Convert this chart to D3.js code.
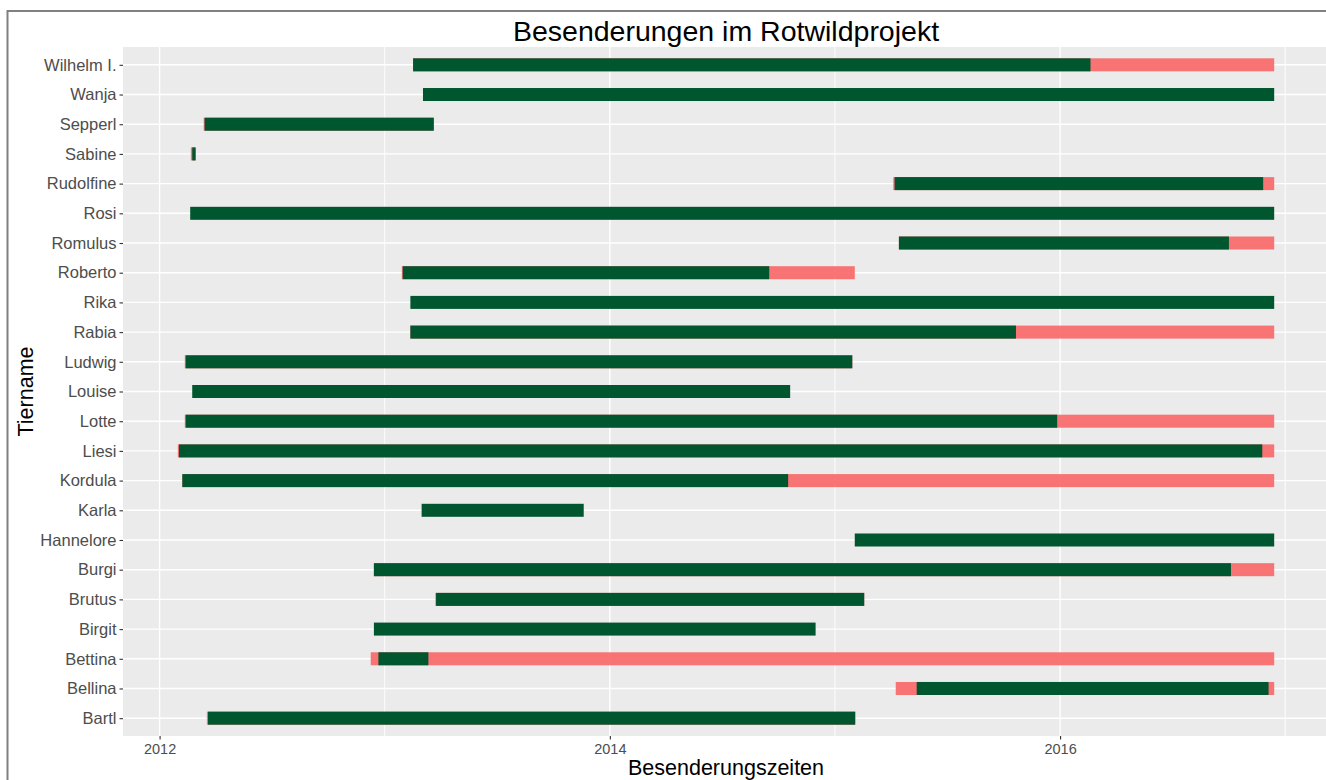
<!DOCTYPE html>
<html>
<head>
<meta charset="utf-8">
<script src="https://cdn.jsdelivr.net/npm/d3@7"></script>
<style>
  html, body { margin: 0; padding: 0; background: #ffffff; }
  svg { display: block; font-family: "Liberation Sans", Arial, sans-serif; }
</style>
</head>
<body>
<svg id="chart" width="1326" height="780"></svg>
<script>
// ---- data (decimal years) ----
const animals = ["Wilhelm I.", "Wanja", "Sepperl", "Sabine", "Rudolfine", "Rosi", "Romulus", "Roberto",
  "Rika", "Rabia", "Ludwig", "Louise", "Lotte", "Liesi", "Kordula", "Karla", "Hannelore", "Burgi",
  "Brutus", "Birgit", "Bettina", "Bellina", "Bartl"];
// full deployment period (red), null where completely covered
const redStart = [2013.126, null, 2012.196, 2012.139, 2015.259, null, 2015.284, 2013.076,
  null, 2013.114, 2012.112, null, 2012.112, 2012.081, 2012.101, null, null, 2012.952,
  2013.225, null, 2012.938, 2015.270, 2012.210];
const redEnd = [2016.951, null, 2013.218, 2012.160, 2016.951, null, 2016.951, 2015.088,
  null, 2016.951, 2015.077, null, 2016.951, 2016.951, 2016.951, null, null, 2016.951,
  2015.130, null, 2016.951, 2016.951, 2015.090];
// period with data (green)
const greenStart = [2013.126, 2013.170, 2012.200, 2012.145, 2015.265, 2012.136, 2015.284, 2013.080,
  2013.114, 2013.114, 2012.116, 2012.145, 2012.116, 2012.086, 2012.101, 2013.164, 2015.088, 2012.952,
  2013.228, 2012.952, 2012.972, 2015.363, 2012.215];
const greenEnd = [2016.135, 2016.951, 2013.218, 2012.160, 2016.902, 2016.951, 2016.750, 2014.708,
  2016.951, 2015.804, 2015.077, 2014.801, 2015.987, 2016.898, 2014.792, 2013.884, 2016.951, 2016.759,
  2015.130, 2014.914, 2013.194, 2016.926, 2015.090];
const majorTicks = [2012, 2014, 2016];
const minorTicks = [2013, 2015, 2017];
const tickLabels = ["2012", "2014", "2016"];
const titleText = "Besenderungen im Rotwildprojekt";
const xTitle = "Besenderungszeiten";
const yTitle = "Tiername";

// ---- layout ----
const svg = d3.select("#chart");
const panel = { left: 123, right: 1329, top: 47, bottom: 736 };
const green = "#00562F";
const red = "#F8696B";

const all = [].concat(redStart, redEnd, greenStart, greenEnd).filter(v => v != null);
const ext = d3.extent(all);
const pad = (ext[1] - ext[0]) * 0.05;
const x = d3.scaleLinear().domain([ext[0] - pad, ext[1] + pad]).range([panel.left, panel.right]);
const y = d3.scalePoint().domain(animals).range([panel.top, panel.bottom]).padding(0.6);

// outer frame
svg.append("rect").attr("x", 7.5).attr("y", 11).attr("width", 1340).attr("height", 800)
  .attr("fill", "none").attr("stroke", "#808080").attr("stroke-width", 2);

// panel background
svg.append("rect").attr("x", panel.left).attr("y", panel.top)
  .attr("width", panel.right - panel.left).attr("height", panel.bottom - panel.top)
  .attr("fill", "#EBEBEB");

const grid = svg.append("g");
grid.selectAll(".minor").data(minorTicks).join("line")
  .attr("x1", d => x(d)).attr("x2", d => x(d))
  .attr("y1", panel.top).attr("y2", panel.bottom)
  .attr("stroke", "#ffffff").attr("stroke-width", 0.9);
grid.selectAll(".major").data(majorTicks).join("line")
  .attr("x1", d => x(d)).attr("x2", d => x(d))
  .attr("y1", panel.top).attr("y2", panel.bottom)
  .attr("stroke", "#ffffff").attr("stroke-width", 1.4);
grid.selectAll(".hmajor").data(animals).join("line")
  .attr("x1", panel.left).attr("x2", panel.right)
  .attr("y1", d => y(d)).attr("y2", d => y(d))
  .attr("stroke", "#ffffff").attr("stroke-width", 1.4);

const rows = animals.map((a, i) => ({ a, rs: redStart[i], re: redEnd[i], gs: greenStart[i], ge: greenEnd[i] }));
const barH = 13;
svg.append("g").selectAll("rect").data(rows.filter(r => r.rs != null)).join("rect")
  .attr("x", d => x(d.rs)).attr("width", d => Math.max(0.8, x(d.re) - x(d.rs)))
  .attr("y", d => y(d.a) - barH / 2).attr("height", barH)
  .attr("fill", red).attr("fill-opacity", 0.93);
svg.append("g").selectAll("rect").data(rows).join("rect")
  .attr("x", d => x(d.gs)).attr("width", d => Math.max(0.8, x(d.ge) - x(d.gs)))
  .attr("y", d => y(d.a) - barH / 2).attr("height", barH)
  .attr("fill", green);

// y axis
const yAxis = svg.append("g").attr("transform", `translate(${panel.left},0)`)
  .call(d3.axisLeft(y).tickSize(3.5).tickPadding(3));
yAxis.select(".domain").remove();
yAxis.selectAll("line").attr("stroke", "#333333").attr("stroke-width", 1.1);
yAxis.selectAll("text").attr("fill", "#4D4D4D").attr("font-size", "16.5px")
  .attr("font-family", "'Liberation Sans', Arial, sans-serif");

// x axis
const xAxis = svg.append("g").attr("transform", `translate(0,${panel.bottom})`)
  .call(d3.axisBottom(x).tickValues(majorTicks).tickFormat((d, i) => tickLabels[i]).tickSize(3.5).tickPadding(4));
xAxis.select(".domain").remove();
xAxis.selectAll("line").attr("stroke", "#333333").attr("stroke-width", 1.1);
xAxis.selectAll("text").attr("fill", "#4D4D4D").attr("font-size", "14.5px")
  .attr("font-family", "'Liberation Sans', Arial, sans-serif");

// titles
const cx = (panel.left + panel.right) / 2;
svg.append("text").attr("x", cx).attr("y", 41).attr("text-anchor", "middle")
  .attr("font-size", "28.5px").attr("fill", "#000").text(titleText);
svg.append("text").attr("x", cx).attr("y", 775).attr("text-anchor", "middle")
  .attr("font-size", "21.5px").attr("fill", "#000").text(xTitle);
svg.append("text").attr("transform", `translate(33,${(panel.top + panel.bottom) / 2}) rotate(-90)`)
  .attr("text-anchor", "middle").attr("font-size", "21.5px").attr("fill", "#000").text(yTitle);
</script>
</body>
</html>
